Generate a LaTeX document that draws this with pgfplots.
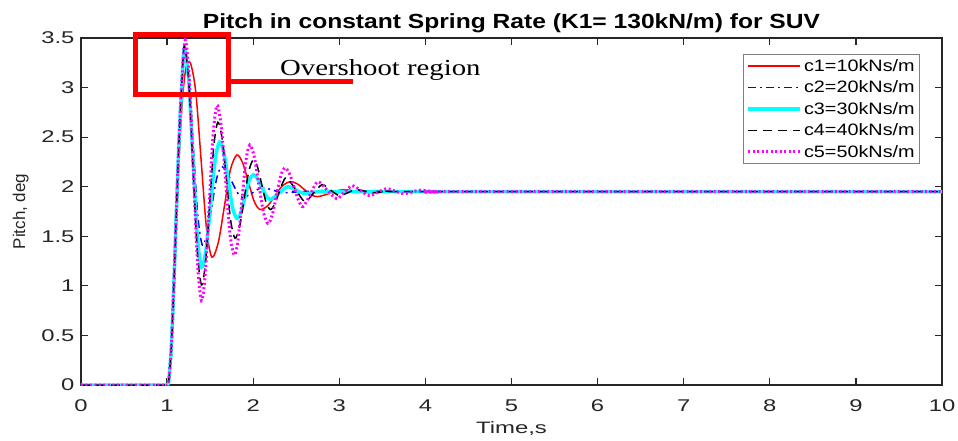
\documentclass[border=0pt]{standalone}
\usepackage{pgfplots}
\pgfplotsset{compat=1.18}
\usepackage{fontspec}
\setmainfont{Liberation Sans}
\newfontfamily\tickfont[FakeStretch=1.4]{Liberation Sans}
\newfontfamily\xlabfont[FakeStretch=1.45]{Liberation Sans}
\newfontfamily\titlefont[FakeStretch=1.2]{Liberation Sans}
\newfontfamily\legfont[FakeStretch=1.2]{Liberation Sans}
\newfontfamily\annfont[FakeStretch=1.25]{Liberation Serif}
\definecolor{axgray}{RGB}{38,38,38}
\definecolor{mcyan}{RGB}{0,255,255}
\definecolor{mmag}{RGB}{255,0,255}
\definecolor{mblue}{RGB}{0,0,255}
\definecolor{mred}{RGB}{255,0,0}
\begin{document}
\begin{tikzpicture}
\begin{axis}[
  name=ax,
  scale only axis,
  width=861bp, height=347bp,
  xmin=0, xmax=10, ymin=0, ymax=3.5,
  xtick={0,1,...,10},
  ytick={0,0.5,1,1.5,2,2.5,3,3.5},
  yticklabels={0,0.5,1,1.5,2,2.5,3,3.5},
  tick align=inside,
  major tick length=7bp,
  axis line style={axgray, line width=1.5bp},
  every tick/.style={axgray, line width=1.2bp},
  tick label style={font=\tickfont\fontsize{17bp}{19bp}\selectfont, text=axgray},
  xticklabel style={yshift=-11bp},
  yticklabel style={xshift=-3bp},
  /pgf/number format/assume math mode=true,
  xlabel={\fontsize{16.5bp}{18bp}\xlabfont Time,s},
  xlabel style={text=axgray, yshift=-3bp},
  ylabel={Pitch, deg},
  ylabel style={text=axgray, font=\fontsize{17bp}{19bp}\selectfont, yshift=6bp},
  title={\titlefont\bfseries Pitch in constant Spring Rate (K1= 130kN/m) for SUV},
  title style={font=\fontsize{20.5bp}{22bp}\selectfont, yshift=-4bp},
  legend style={at={(0.9745,0.954)}, anchor=north east, draw=gray, line width=0.8bp,
    font=\legfont\fontsize{16.5bp}{18bp}\selectfont, cells={anchor=west}, row sep=4bp, inner sep=3bp},
  legend image code/.code={\draw[#1] (0bp,0bp) -- (52bp,0bp);},
]
\addplot[mred, line width=1.5bp, smooth] coordinates {
(0,0) (0.9,0) (0.98,0) (1.0,0) (1.02,0.05) (1.05,0.35) (1.08,0.95) (1.11,1.65) (1.14,2.3) (1.18,2.9) (1.22,3.2) (1.27,3.25)
(1.3325,2.96) (1.395,2.27) (1.4575,1.58) (1.52,1.29) (1.595,1.44) (1.665,1.8) (1.735,2.17)
(1.81,2.32) (1.8775,2.24) (1.945,2.045) (2.0125,1.85) (2.08,1.77) (2.17,1.81) (2.255,1.91)
(2.34,2.01) (2.43,2.05) (2.51,2.03) (2.59,1.975) (2.67,1.92) (2.75,1.90) (2.9,1.935)
(3.05,1.97) (3.35,1.94) (3.65,1.955) (4.0,1.95) (10,1.95)};
\addlegendentry{c1=10kNs/m}
\addplot[mblue, line width=1.5bp, dash pattern=on 8bp off 4bp on 2bp off 4bp, smooth] coordinates {
(0,0) (0.9,0) (0.98,0) (1.0,0) (1.02,0.05) (1.05,0.4) (1.08,1.05) (1.11,1.8) (1.14,2.5) (1.17,3.0) (1.20,3.38)
(1.2525,3.09) (1.305,2.395) (1.3575,1.70) (1.41,1.41) (1.465,1.53) (1.52,1.805) (1.575,2.08)
(1.63,2.2) (1.6925,2.15) (1.755,2.045) (1.8175,1.94) (1.88,1.89) (1.995,1.94) (2.11,1.99)
(2.35,1.94) (2.6,1.953) (3.0,1.95) (10,1.95)};
\addlegendentry{c2=20kNs/m}
\addplot[mcyan, line width=3.5bp, smooth] coordinates {
(0,0) (0.9,0) (0.98,0) (1.0,0) (1.02,0.05) (1.05,0.4) (1.08,1.05) (1.11,1.8) (1.14,2.5) (1.17,3.0) (1.20,3.40)
(1.25,3.08) (1.30,2.295) (1.35,1.51) (1.40,1.19) (1.4525,1.37) (1.505,1.82) (1.5575,2.27)
(1.61,2.45) (1.66,2.34) (1.71,2.065) (1.76,1.79) (1.81,1.68) (1.8575,1.74) (1.905,1.90)
(1.9525,2.06) (2.0,2.12) (2.05,2.08) (2.1,1.995) (2.15,1.91) (2.2,1.87) (2.3,1.935)
(2.4,2.0) (2.5,1.965) (2.6,1.93) (2.8,1.955) (3.0,1.945) (3.3,1.95) (10,1.95)};
\addlegendentry{c3=30kNs/m}
\addplot[black, line width=1.5bp, dash pattern=on 9bp off 6bp, smooth] coordinates {
(0,0) (0.9,0) (0.98,0) (1.0,0) (1.02,0.05) (1.05,0.4) (1.08,1.05) (1.11,1.8) (1.14,2.5) (1.17,3.02) (1.20,3.42)
(1.25,3.07) (1.30,2.215) (1.35,1.36) (1.40,1.01) (1.4475,1.25) (1.495,1.83) (1.5425,2.41)
(1.59,2.65) (1.64,2.48) (1.69,2.065) (1.74,1.65) (1.79,1.48) (1.8425,1.60) (1.895,1.875)
(1.9475,2.15) (2.0,2.27) (2.05,2.20) (2.1,2.02) (2.15,1.84) (2.2,1.77) (2.2475,1.82)
(2.295,1.93) (2.3425,2.04) (2.39,2.09) (2.495,1.97) (2.6,1.85) (2.7,1.935) (2.8,2.02)
(2.9,1.965) (3.0,1.91) (3.1,1.94) (3.2,1.97) (3.4,1.94) (3.6,1.955) (3.9,1.95) (10,1.95)};
\addlegendentry{c4=40kNs/m}
\addplot[mmag, line width=3bp, dash pattern=on 2bp off 2.5bp, smooth] coordinates {
(0,0) (0.9,0) (0.98,0) (1.0,0) (1.02,0.05) (1.05,0.4) (1.08,1.05) (1.11,1.8) (1.14,2.5) (1.17,3.05) (1.21,3.48)
(1.2575,3.09) (1.305,2.165) (1.3525,1.24) (1.40,0.85) (1.445,1.14) (1.49,1.835) (1.535,2.53)
(1.58,2.82) (1.63,2.60) (1.68,2.065) (1.73,1.53) (1.78,1.31) (1.825,1.47) (1.87,1.865)
(1.915,2.26) (1.96,2.42) (2.0125,2.30) (2.065,2.025) (2.1175,1.75) (2.17,1.63) (2.22,1.71)
(2.27,1.91) (2.32,2.11) (2.37,2.19) (2.4225,2.13) (2.475,1.995) (2.5275,1.86) (2.58,1.80)
(2.665,1.925) (2.75,2.05) (2.86,1.965) (2.97,1.88) (3.06,1.945) (3.15,2.01) (3.25,1.96)
(3.35,1.91) (3.45,1.945) (3.55,1.98) (3.65,1.955) (3.75,1.93) (3.85,1.9475) (3.95,1.965)
(4.15,1.945) (4.4,1.95) (10,1.95)};
\addlegendentry{c5=50kNs/m}
\coordinate (b1) at (axis cs:0.633,3.535);
\coordinate (b2) at (axis cs:1.713,2.930);
\coordinate (l1) at (axis cs:1.713,3.066);
\coordinate (l2) at (axis cs:3.16,3.066);
\coordinate (tx) at (axis cs:2.311,3.117);
\end{axis}
\draw[mred, line width=5.5bp] (b1) rectangle (b2);
\draw[mred, line width=5bp] (l1) -- (l2);
\node[anchor=base west, inner sep=0pt, font=\annfont\fontsize{23bp}{25bp}\selectfont] at (tx) {Overshoot region};
\pgfresetboundingbox
\path ([shift={(-81bp,-56bp)}]ax.south west) rectangle ([shift={(16bp,38bp)}]ax.north east);
\end{tikzpicture}
\end{document}
